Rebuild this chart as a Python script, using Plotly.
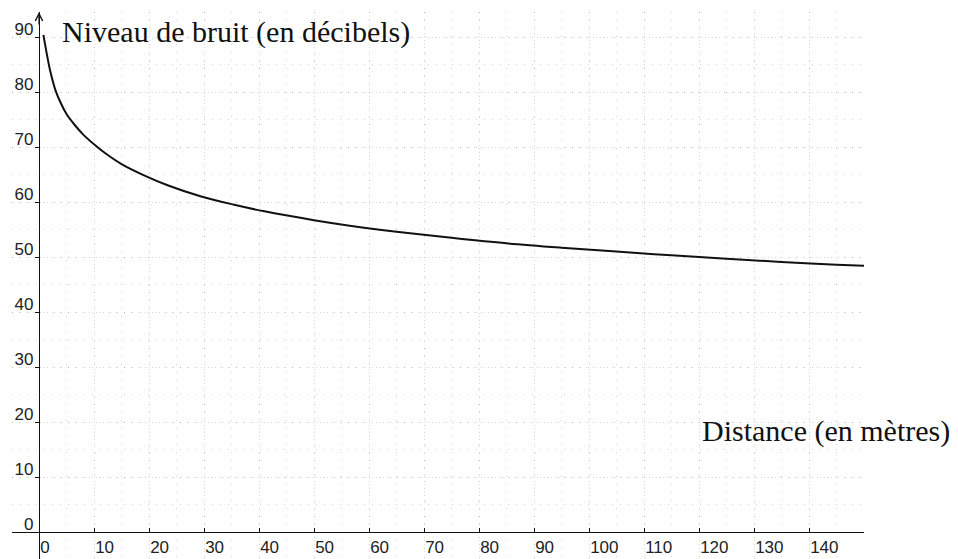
import plotly.graph_objects as go

# Data
distance_m = [0.8, 1.5, 2, 3, 4, 5, 6.5, 8, 10, 12, 15, 19, 23.5, 29.5, 35.5, 41,
              50, 56.5, 65, 75, 85, 95, 105, 115, 125, 135, 145, 150]
noise_db = [90.4, 86.5, 84.0, 80.3, 77.9, 76.0, 74.0, 72.3, 70.5, 68.9, 66.9, 64.9,
            63.0, 61.0, 59.5, 58.3, 56.7, 55.7, 54.6, 53.5, 52.5, 51.7, 51.0, 50.3,
            49.7, 49.1, 48.6, 48.4]

x_ticks = list(range(0, 141, 10))
y_ticks = list(range(0, 91, 10))

y_title = "Niveau de bruit (en décibels)"
x_title = "Distance (en mètres)"

W, H = 958, 559
ml, mr, mt, mb = 12, 94, 12, 0
x_range = [-4.909, 150]
y_range = [-4.909, 94.545]

x_pos = (0 - y_range[0]) / (y_range[1] - y_range[0])
y_pos = (0 - x_range[0]) / (x_range[1] - x_range[0])
pw = W - ml - mr
ph = H - mt - mb

fig = go.Figure()
fig.add_trace(go.Scatter(
    x=distance_m, y=noise_db, mode="lines",
    line=dict(color="#111111", width=2, shape="spline", smoothing=1.0),
    hoverinfo="x+y", showlegend=False,
))

tick_font = dict(family="Liberation Sans, Arial, sans-serif", size=17, color="#222222")
title_font = dict(family="Liberation Serif, Times New Roman, serif", size=30, color="#111")
grid_col = "rgba(0,0,0,0.16)"

fig.update_layout(
    template="none",
    width=W, height=H,
    margin=dict(l=ml, r=mr, t=mt, b=mb, pad=0, autoexpand=False),
    paper_bgcolor="white", plot_bgcolor="white",
    font=dict(family="Liberation Sans, Arial, sans-serif", color="#222"),
    showlegend=False,
    xaxis=dict(
        range=x_range, anchor="free", position=x_pos, automargin=False,
        tickvals=x_ticks, ticktext=[str(v) for v in x_ticks],
        ticks="inside", ticklen=4, tickcolor="#111", tickwidth=1,
        ticklabelposition="outside right", ticklabelstandoff=-1,
        tickfont=tick_font,
        showline=True, linecolor="#111", linewidth=1.3,
        zeroline=False,
        showgrid=True, gridcolor=grid_col, griddash="1px,6px", gridwidth=1,
        minor=dict(dtick=5, tick0=0, showgrid=True, gridcolor=grid_col,
                   griddash="1px,7px", gridwidth=1, ticks=""),
        fixedrange=True,
    ),
    yaxis=dict(
        range=y_range, anchor="free", position=y_pos, automargin=False,
        tickvals=y_ticks, ticktext=[str(v) for v in y_ticks],
        ticks="outside", ticklen=4, tickcolor="#111", tickwidth=1,
        ticklabelposition="outside top", ticklabelshift=4, ticklabelstandoff=2,
        tickfont=tick_font,
        showline=True, linecolor="#111", linewidth=1.3,
        zeroline=False,
        showgrid=True, gridcolor=grid_col, griddash="1px,6px", gridwidth=1,
        minor=dict(dtick=5, tick0=0, showgrid=True, gridcolor=grid_col,
                   griddash="1px,7px", gridwidth=1, ticks=""),
        fixedrange=True,
    ),
    annotations=[
        dict(text=y_title, xref="paper", yref="paper",
             x=(60 - ml) / pw, y=1 - (13 - mt) / ph,
             xanchor="left", yanchor="top", showarrow=False, font=title_font),
        dict(text=x_title, xref="paper", yref="paper",
             x=(952 - ml) / pw, y=1 - (412 - mt) / ph,
             xanchor="right", yanchor="top", showarrow=False, font=title_font),
        dict(text="", xref="x", yref="paper", x=0, y=1.0, axref="pixel", ayref="pixel",
             ax=0, ay=14, showarrow=True, arrowhead=5, arrowsize=1.2, arrowwidth=1.2,
             arrowcolor="#111"),
    ],
)

fig.write_html(
    "out.html",
    config={"displayModeBar": False, "staticPlot": False},
    post_script="document.body.style.margin='0';document.body.style.overflow='hidden';",
)
